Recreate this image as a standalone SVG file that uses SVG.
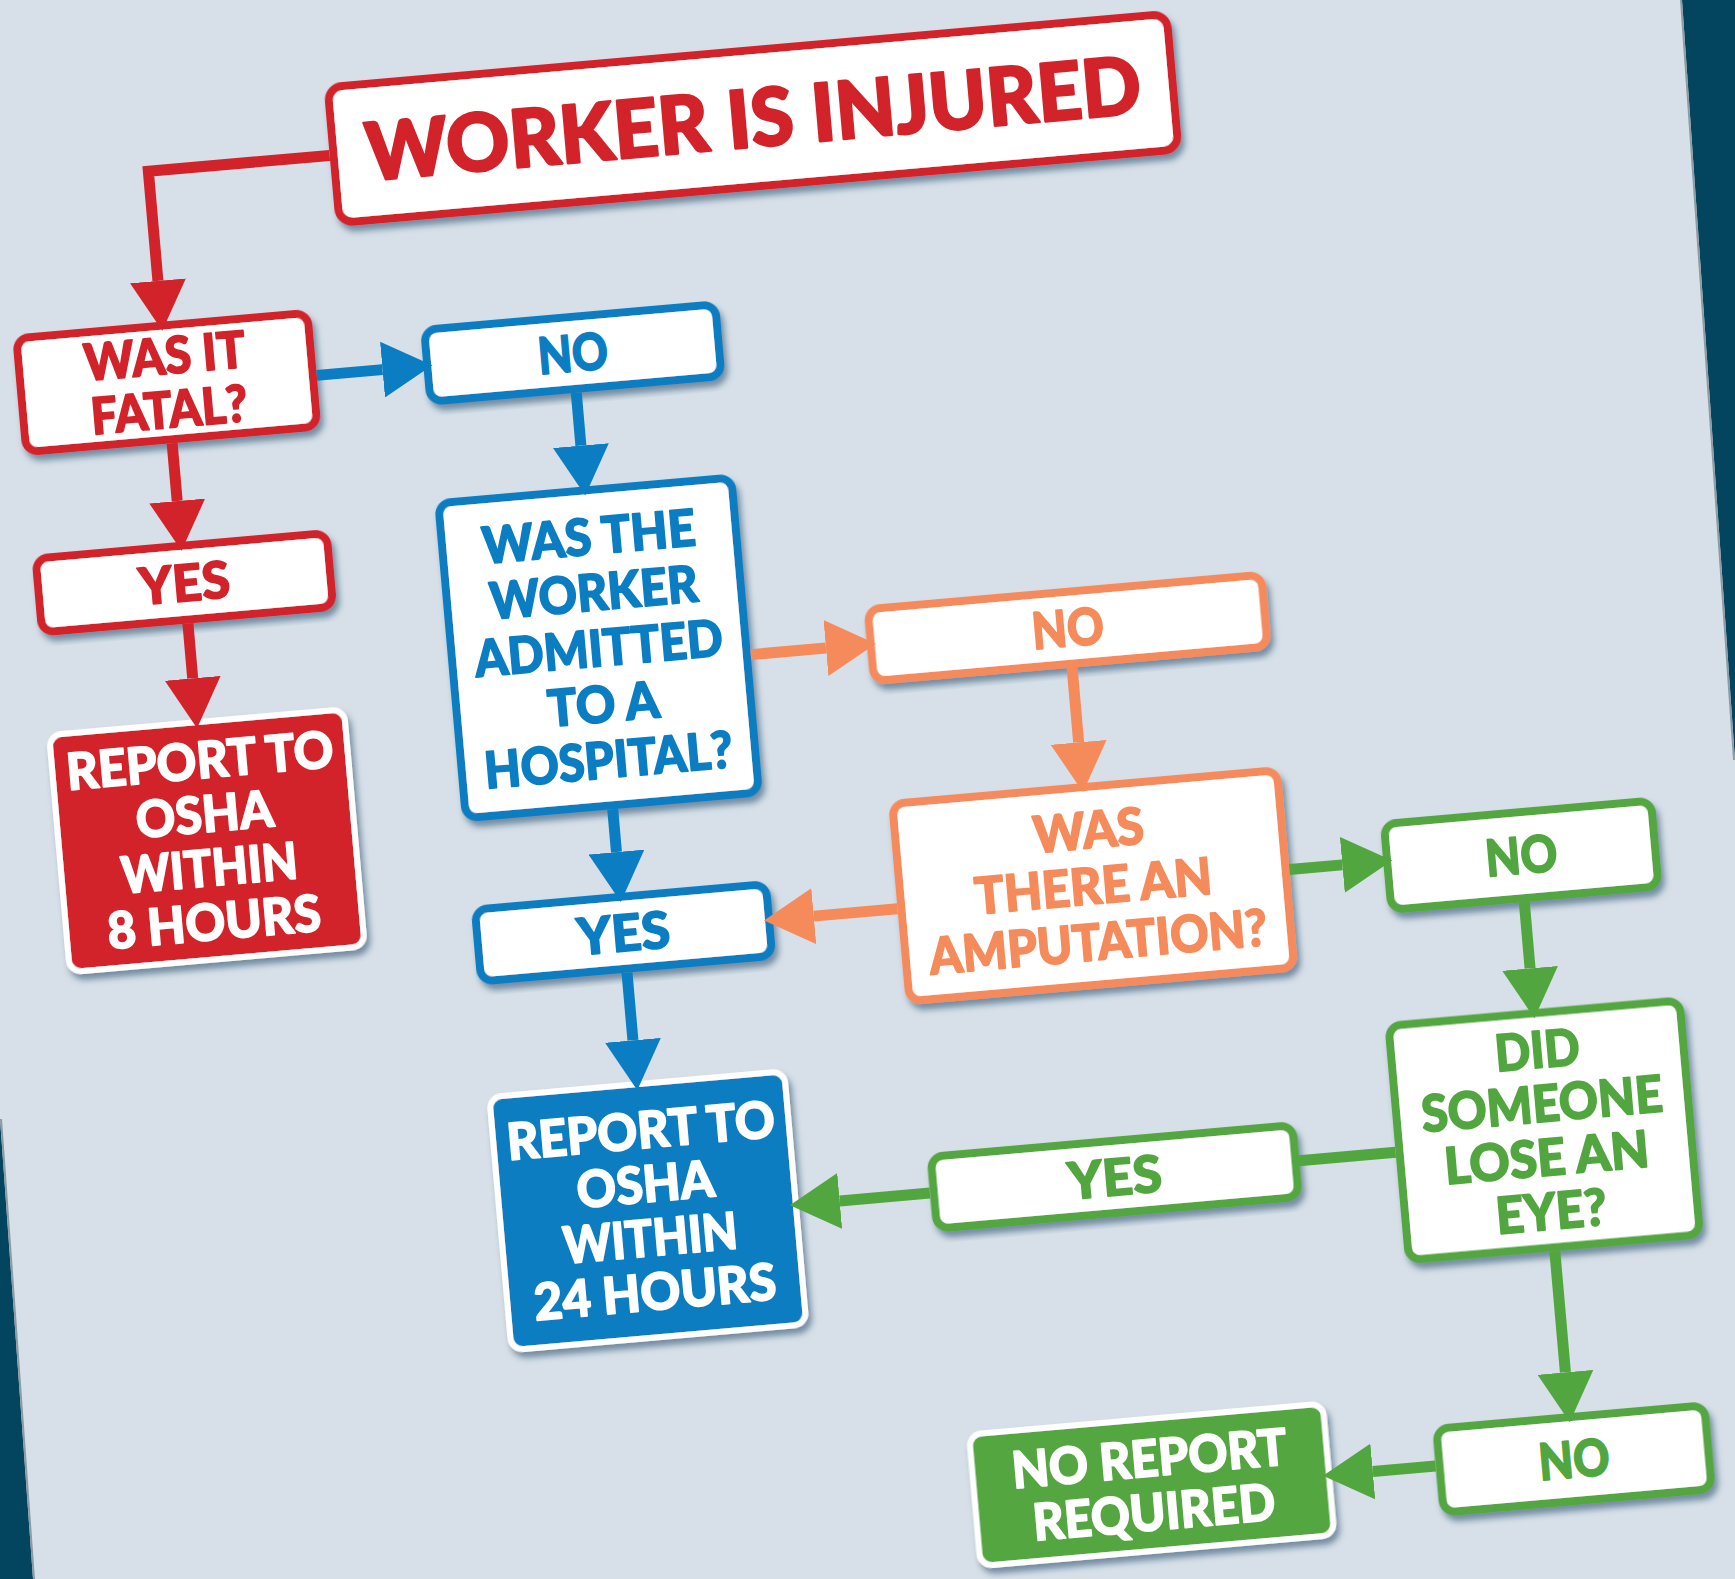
<svg xmlns="http://www.w3.org/2000/svg" width="1735" height="1579" viewBox="0 0 1735 1579">
<style>
text{font-family:"Lato","Liberation Sans",sans-serif;font-weight:900;text-anchor:middle;font-size:51px;stroke-width:1.6;stroke-linejoin:round}
text.big{font-size:80px;stroke-width:2.4}
.ob{fill:#ffffff;stroke-width:8;filter:url(#sh)}
.fb{stroke:#ffffff;stroke-width:6;filter:url(#sh)}
.red{stroke:#d2232a}.blue{stroke:#0b7dc2}.orange{stroke:#f58b5b}.green{stroke:#52a63f}
.tred{fill:#d2232a;stroke:#d2232a}.tblue{fill:#0b7dc2;stroke:#0b7dc2}.torange{fill:#f58b5b;stroke:#f58b5b}.tgreen{fill:#52a63f;stroke:#52a63f}.twhite{fill:#ffffff;stroke:#ffffff}
.ln{fill:none;stroke-width:11}
</style>
<defs>
<filter id="sh" x="-10%" y="-10%" width="125%" height="130%">
<feDropShadow dx="3" dy="6" stdDeviation="3" flood-color="#1d4a6a" flood-opacity="0.55"/>
</filter>
<marker id="mr" viewBox="0 0 50 56" refX="0" refY="28" markerWidth="50" markerHeight="56" markerUnits="userSpaceOnUse" orient="auto"><path d="M0,0 L50,28 L0,56 z" fill="#d2232a"/></marker>
<marker id="mb" viewBox="0 0 50 56" refX="0" refY="28" markerWidth="50" markerHeight="56" markerUnits="userSpaceOnUse" orient="auto"><path d="M0,0 L50,28 L0,56 z" fill="#0b7dc2"/></marker>
<marker id="mo" viewBox="0 0 50 56" refX="0" refY="28" markerWidth="50" markerHeight="56" markerUnits="userSpaceOnUse" orient="auto"><path d="M0,0 L50,28 L0,56 z" fill="#f58b5b"/></marker>
<marker id="mg" viewBox="0 0 50 56" refX="0" refY="28" markerWidth="50" markerHeight="56" markerUnits="userSpaceOnUse" orient="auto"><path d="M0,0 L50,28 L0,56 z" fill="#52a63f"/></marker>
</defs>
<rect x="0" y="0" width="1735" height="1579" fill="#d7e0e8"/>
<polygon points="1682,0 1735,0 1735,760" fill="#03455f"/>
<line x1="1681" y1="0" x2="1734" y2="760" stroke="#8d9ba5" stroke-width="2"/>
<polygon points="0,1119 33,1579 0,1579" fill="#03455f"/>
<line x1="1" y1="1119" x2="34" y2="1579" stroke="#8d9ba5" stroke-width="2"/>

<g transform="rotate(-5 867 790)">
<g id="n-injured"><rect class="ob red" x="391" y="43" width="842" height="136" rx="14"/><text class="tred big" x="812" y="139.5" textLength="778" lengthAdjust="spacingAndGlyphs">WORKER IS INJURED</text></g>
<g id="n-fatal"><rect class="ob red" x="59" y="266" width="292" height="114" rx="12"/><text class="tred" x="205" y="314.5" textLength="162" lengthAdjust="spacingAndGlyphs">WAS IT</text><text class="tred" x="205" y="368.5" textLength="157" lengthAdjust="spacingAndGlyphs">FATAL?</text></g>
<g id="n-no1"><rect class="ob blue" x="466" y="293" width="292" height="72" rx="12"/><text class="tblue" x="612" y="347.5" textLength="70" lengthAdjust="spacingAndGlyphs">NO</text></g>
<g id="n-yes1"><rect class="ob red" x="59" y="487" width="292" height="74" rx="12"/><text class="tred" x="205" y="542.5" textLength="91" lengthAdjust="spacingAndGlyphs">YES</text></g>
<g id="n-report8"><rect class="fb" fill="#d2232a" x="57" y="664" width="296" height="238" rx="12"/><text class="twhite" x="205" y="720.5" textLength="268" lengthAdjust="spacingAndGlyphs">REPORT TO</text><text class="twhite" x="205" y="774.5" textLength="138" lengthAdjust="spacingAndGlyphs">OSHA</text><text class="twhite" x="205" y="828.5" textLength="177" lengthAdjust="spacingAndGlyphs">WITHIN</text><text class="twhite" x="205" y="882.5" textLength="214" lengthAdjust="spacingAndGlyphs">8 HOURS</text></g>
<g id="n-hospital"><rect class="ob blue" x="465" y="467" width="294" height="316" rx="12"/><text class="tblue" x="612" y="531.5" textLength="214" lengthAdjust="spacingAndGlyphs">WAS THE</text><text class="tblue" x="612" y="587.5" textLength="209" lengthAdjust="spacingAndGlyphs">WORKER</text><text class="tblue" x="612" y="643.5" textLength="249" lengthAdjust="spacingAndGlyphs">ADMITTED</text><text class="tblue" x="612" y="699.5" textLength="112" lengthAdjust="spacingAndGlyphs">TO A</text><text class="tblue" x="612" y="755.5" textLength="249" lengthAdjust="spacingAndGlyphs">HOSPITAL?</text></g>
<g id="n-no2"><rect class="ob orange" x="883.5" y="610" width="395" height="72" rx="12"/><text class="torange" x="1081" y="664.5" textLength="72" lengthAdjust="spacingAndGlyphs">NO</text></g>
<g id="n-amputation"><rect class="ob orange" x="891" y="806" width="386" height="198" rx="12"/><text class="torange" x="1084" y="867.5" textLength="111" lengthAdjust="spacingAndGlyphs">WAS</text><text class="torange" x="1084" y="923.5" textLength="238" lengthAdjust="spacingAndGlyphs">THERE AN</text><text class="torange" x="1084" y="979.5" textLength="339" lengthAdjust="spacingAndGlyphs">AMPUTATION?</text></g>
<g id="n-yes2"><rect class="ob blue" x="466" y="875" width="292" height="72" rx="12"/><text class="tblue" x="612" y="929.5" textLength="93" lengthAdjust="spacingAndGlyphs">YES</text></g>
<g id="n-no3"><rect class="ob green" x="1379" y="869" width="268" height="86" rx="12"/><text class="tgreen" x="1513" y="930.5" textLength="72" lengthAdjust="spacingAndGlyphs">NO</text></g>
<g id="n-eye"><rect class="ob green" x="1366" y="1070.5" width="292" height="235" rx="12"/><text class="tgreen" x="1512" y="1125.5" textLength="85" lengthAdjust="spacingAndGlyphs">DID</text><text class="tgreen" x="1512" y="1179.5" textLength="242" lengthAdjust="spacingAndGlyphs">SOMEONE</text><text class="tgreen" x="1512" y="1233.5" textLength="205" lengthAdjust="spacingAndGlyphs">LOSE AN</text><text class="tgreen" x="1512" y="1287.5" textLength="111" lengthAdjust="spacingAndGlyphs">EYE?</text></g>
<g id="n-report24"><rect class="fb" fill="#0b7dc2" x="464" y="1063" width="296" height="254" rx="12"/><text class="twhite" x="612" y="1127.5" textLength="269" lengthAdjust="spacingAndGlyphs">REPORT TO</text><text class="twhite" x="612" y="1181.5" textLength="138" lengthAdjust="spacingAndGlyphs">OSHA</text><text class="twhite" x="612" y="1235.5" textLength="175" lengthAdjust="spacingAndGlyphs">WITHIN</text><text class="twhite" x="612" y="1289.5" textLength="243" lengthAdjust="spacingAndGlyphs">24 HOURS</text></g>
<g id="n-yes3"><rect class="ob green" x="898.5" y="1161" width="363" height="72" rx="12"/><text class="tgreen" x="1080" y="1215.5" textLength="94" lengthAdjust="spacingAndGlyphs">YES</text></g>
<g id="n-no4"><rect class="ob green" x="1378.5" y="1476" width="269" height="84" rx="12"/><text class="tgreen" x="1513" y="1536.5" textLength="71" lengthAdjust="spacingAndGlyphs">NO</text></g>
<g id="n-noreport"><rect class="fb" fill="#52a63f" x="912.5" y="1441" width="355" height="132" rx="12"/><text class="twhite" x="1090" y="1498.5" textLength="276" lengthAdjust="spacingAndGlyphs">NO REPORT</text><text class="twhite" x="1090" y="1552.5" textLength="243" lengthAdjust="spacingAndGlyphs">REQUIRED</text></g>

<g id="connectors">
<path class="ln red" d="M387,111 H205 V221" marker-end="url(#mr)"/>
<path class="ln blue" d="M355,329 H421" marker-end="url(#mb)"/>
<path class="ln red" d="M205,384 V442" marker-end="url(#mr)"/>
<path class="ln red" d="M205,565 V620" marker-end="url(#mr)"/>
<path class="ln blue" d="M612,369 V422" marker-end="url(#mb)"/>
<path class="ln orange" d="M763,645 H838.5" marker-end="url(#mo)"/>
<path class="ln blue" d="M612,787 V830" marker-end="url(#mb)"/>
<path class="ln blue" d="M612,951 V1019" marker-end="url(#mb)"/>
<path class="ln orange" d="M1082,686 V761" marker-end="url(#mo)"/>
<path class="ln orange" d="M887,911 H803" marker-end="url(#mo)"/>
<path class="ln green" d="M1281,906 H1334" marker-end="url(#mg)"/>
<path class="ln green" d="M1512,959 V1025.5" marker-end="url(#mg)"/>
<path class="ln green" d="M1362,1197 H1265"/>
<path class="ln green" d="M894.5,1197 H804" marker-end="url(#mg)"/>
<path class="ln green" d="M1512,1309.5 V1431" marker-end="url(#mg)"/>
<path class="ln green" d="M1374.5,1513 H1311.5" marker-end="url(#mg)"/>
</g>
</g>
</svg>
